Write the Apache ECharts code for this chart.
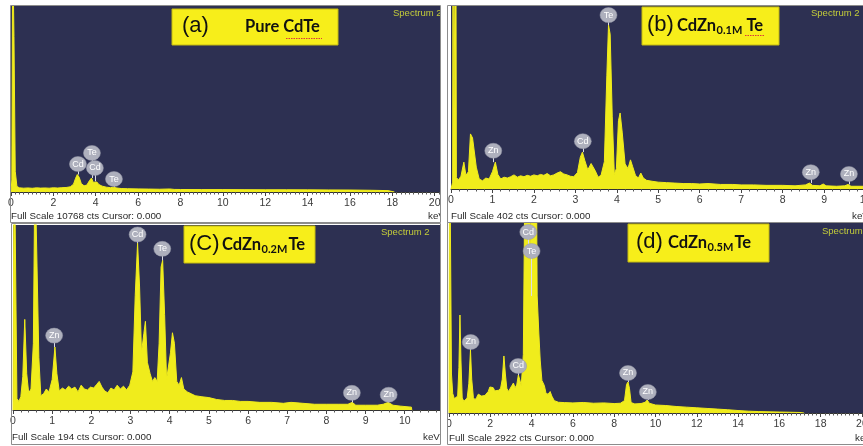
<!DOCTYPE html>
<html>
<head>
<meta charset="utf-8">
<script src="https://cdn.jsdelivr.net/npm/echarts@6/dist/echarts.min.js"></script>
<style>
  html, body { margin: 0; padding: 0; background: #fff; }
  #eds { width: 863px; height: 446px; }
</style>
</head>
<body>
<div id="eds"></div>
<script>
// EDS spectra, [keV, counts]
const specA = [[0,0],[0.04,700],[0.08,14000],[0.14,9000],[0.2,1200],[0.28,320],[0.4,240],[0.6,220],[0.8,235],[1.0,215],[1.2,240],[1.4,225],[1.6,235],[1.8,220],[2.0,245],[2.2,230],[2.4,250],[2.6,260],[2.8,300],[2.95,450],[3.05,800],[3.13,1010],[3.22,850],[3.32,480],[3.45,360],[3.58,400],[3.7,650],[3.8,810],[3.88,560],[3.96,620],[4.05,580],[4.15,430],[4.3,340],[4.5,280],[4.7,250],[4.82,280],[4.9,300],[5.0,230],[5.2,200],[5.5,190],[6.0,180],[6.5,170],[7.0,160],[7.5,175],[7.7,150],[8.0,145],[9.0,140],[10.0,140],[11.0,135],[12.0,130],[13.0,130],[14.0,125],[15.0,120],[16.0,115],[17.0,100],[17.8,80],[18.1,0]];

const specB = [[0,0],[0.04,15],[0.05,700],[0.06,15],[0.1,15],[0.115,700],[0.13,25],[0.18,20],[0.24,28],[0.31,59],[0.36,30],[0.42,38],[0.47,121],[0.52,112],[0.56,108],[0.61,48],[0.68,22],[0.76,18],[0.84,24],[0.92,22],[1.0,38],[1.07,59],[1.13,32],[1.2,22],[1.28,26],[1.36,24],[1.44,27],[1.52,31],[1.6,26],[1.68,29],[1.76,27],[1.84,30],[1.92,28],[2.0,31],[2.08,29],[2.16,32],[2.24,30],[2.32,34],[2.4,29],[2.48,31],[2.56,35],[2.64,38],[2.72,33],[2.8,31],[2.88,28],[2.96,27],[3.05,36],[3.12,70],[3.17,81],[3.23,62],[3.3,42],[3.38,56],[3.42,59],[3.48,40],[3.55,26],[3.62,30],[3.7,60],[3.76,250],[3.8,360],[3.84,340],[3.89,160],[3.94,32],[3.99,45],[4.04,150],[4.08,167],[4.13,125],[4.2,55],[4.27,45],[4.33,64],[4.38,50],[4.45,30],[4.52,24],[4.58,35],[4.64,24],[4.72,19],[4.85,17],[5.0,15],[5.2,14],[5.4,13],[5.6,12],[5.8,12],[6.0,11],[6.2,12],[6.5,10],[6.8,10],[7.0,9],[7.3,9],[7.6,8],[8.0,8],[8.3,7],[8.55,9],[8.65,13],[8.72,8],[8.9,7],[8.98,11],[9.05,7],[9.3,6],[9.5,7],[9.58,10],[9.65,6],[10.0,6]];

const specC = [[0,0],[0.03,300],[0.07,300],[0.1,12],[0.15,9],[0.2,14],[0.25,35],[0.3,95],[0.35,38],[0.4,18],[0.46,22],[0.52,70],[0.56,260],[0.61,260],[0.66,55],[0.71,15],[0.78,17],[0.85,22],[0.92,19],[1.0,32],[1.07,66],[1.12,38],[1.18,20],[1.26,23],[1.34,21],[1.42,25],[1.5,22],[1.58,24],[1.66,19],[1.74,26],[1.82,22],[1.9,21],[1.98,24],[2.06,23],[2.14,27],[2.2,30],[2.27,24],[2.34,20],[2.42,18],[2.5,23],[2.58,21],[2.66,26],[2.74,22],[2.82,25],[2.9,21],[2.98,26],[3.06,40],[3.12,120],[3.18,175],[3.23,130],[3.28,60],[3.34,80],[3.38,93],[3.43,50],[3.5,38],[3.56,30],[3.62,34],[3.68,30],[3.73,70],[3.78,150],[3.82,157],[3.87,100],[3.92,32],[3.97,30],[4.02,60],[4.07,81],[4.12,70],[4.18,30],[4.24,26],[4.3,34],[4.36,22],[4.45,19],[4.55,17],[4.65,15],[4.8,14],[5.0,13],[5.2,11],[5.4,10],[5.6,10],[5.8,9],[6.0,9],[6.3,8],[6.6,8],[6.9,7],[7.1,8],[7.4,7],[7.7,6],[8.0,6],[8.3,6],[8.55,6],[8.66,8],[8.75,5],[9.0,5],[9.3,5],[9.45,6],[9.58,8],[9.7,5],[9.9,4],[10.17,3],[10.18,0]];

const specD = [[0,0],[0.03,4500],[0.08,4500],[0.12,600],[0.18,300],[0.26,220],[0.34,200],[0.42,260],[0.48,700],[0.53,1507],[0.58,800],[0.64,230],[0.72,180],[0.8,200],[0.88,230],[0.96,450],[1.04,969],[1.1,520],[1.18,240],[1.26,200],[1.34,240],[1.42,290],[1.5,300],[1.58,260],[1.66,280],[1.74,270],[1.82,300],[1.9,330],[1.98,400],[2.06,430],[2.14,390],[2.22,340],[2.3,330],[2.4,350],[2.5,380],[2.58,520],[2.66,877],[2.73,600],[2.8,380],[2.88,330],[2.96,350],[3.04,420],[3.12,461],[3.2,390],[3.28,430],[3.36,585],[3.42,520],[3.5,420],[3.6,900],[3.67,3500],[3.72,4500],[3.9,4500],[3.945,1700],[3.99,4500],[4.22,4500],[4.27,1800],[4.35,1230],[4.42,800],[4.5,500],[4.56,461],[4.62,420],[4.7,300],[4.8,290],[4.9,330],[4.98,260],[5.1,190],[5.3,165],[5.6,160],[6.0,155],[6.5,162],[7.0,150],[7.5,155],[8.0,145],[8.3,150],[8.5,190],[8.6,440],[8.67,477],[8.74,380],[8.82,160],[9.0,140],[9.3,145],[9.5,165],[9.6,200],[9.7,150],[10.0,123],[10.5,115],[11.0,100],[11.5,90],[12.0,80],[12.5,70],[13.0,60],[13.5,50],[14.0,38],[14.5,28],[15.0,22],[15.5,18],[16.0,15],[16.5,12],[17.0,8],[17.2,0]];

// element markers: [name, keV, bubble counts, peak counts]
const markA = [['Cd',3.16,1620,1010],['Te',3.82,2260,810],['Cd',3.96,1390,620],['Te',4.86,750,300]];
const markB = [['Zn',1.02,84,59],['Cd',3.18,105,81],['Te',3.8,382,360],['Zn',8.68,37,13],['Zn',9.6,33,10]];
const markC = [['Zn',1.05,78,66],['Cd',3.18,184,175],['Te',3.81,169,157],['Zn',8.65,18,8],['Zn',9.59,16,8]];
const markD = [['Zn',1.05,1092,969],['Cd',3.35,723,585],['Cd',3.84,2783,2400],['Te',4.0,2491,1800],['Zn',8.67,615,477],['Zn',9.63,323,200]];

const fullScale = [10768, 402, 194, 2922];
const keVMax = [20.25, 10, 10.9, 20.1];
const tickStep = [2, 1, 1, 2];
const spectra = [specA, specB, specC, specD];
const marks = [markA, markB, markC, markD];

// panel layout (px)
const grids = [
  { left: 11, top: 6, width: 429, height: 186 },
  { left: 451, top: 6, width: 414.5, height: 183 },
  { left: 13, top: 225, width: 427, height: 185 },
  { left: 449, top: 223, width: 415, height: 190 },
];

const YEL = '#f0ec1c';
const DARK = '#2d3052';
const FONT = 'Liberation Sans, Arial, sans-serif';
const BOLD = 'bold 16.5px Lato, sans-serif';
const SUB = 'bold 11px Lato, sans-serif';

const chart = echarts.init(document.getElementById('eds'));

const xAxes = grids.map((g, i) => ({
  type: 'value', gridIndex: i, min: 0, max: keVMax[i], interval: tickStep[i],
  axisLine: { show: true, onZero: false, lineStyle: { color: '#333', width: 1 } },
  axisTick: { show: true, inside: false, length: 4, lineStyle: { color: '#444' } },
  minorTick: { show: true, splitNumber: tickStep[i] === 2 ? 10 : 5, length: 2.5, lineStyle: { color: '#555' } },
  axisLabel: {
    color: '#3a3a3a', fontSize: 10.5, fontFamily: FONT, margin: 6, hideOverlap: false,
    formatter: v => (Math.abs(v - Math.round(v)) < 1e-6 ? String(Math.round(v)) : ''),
  },
  splitLine: { show: false },
}));

const yAxes = grids.map((g, i) => ({
  type: 'value', gridIndex: i, min: 0, max: fullScale[i], show: false,
}));

const series = [];
spectra.forEach((spec, i) => {
  series.push({
    type: 'line', xAxisIndex: i, yAxisIndex: i, data: spec,
    showSymbol: false, symbol: 'none', clip: true, silent: true, z: 2,
    lineStyle: { color: YEL, width: 1 },
    itemStyle: { color: YEL },
    areaStyle: { color: YEL, opacity: 1 },
    markLine: {
      silent: true, symbol: ['none', 'none'], label: { show: false },
      lineStyle: { color: '#dcdde6', width: 1, type: 'solid' },
      data: marks[i].map(m => [{ coord: [m[1], m[2]] }, { coord: [m[1], m[3]] }]),
    },
  });
  series.push({
    type: 'scatter', xAxisIndex: i, yAxisIndex: i, z: 6, silent: true,
    data: marks[i].map(m => ({ name: m[0], value: [m[1], m[2]] })),
    symbol: 'circle', symbolSize: [17, 15],
    itemStyle: { color: '#aeb0bd', borderColor: '#9698a8', borderWidth: 0.5, opacity: 1 },
    label: { show: true, position: 'inside', formatter: '{b}', color: '#ffffff', fontSize: 9, fontFamily: FONT },
  });
});

// title boxes
const titles = [
  { box: [172, 9, 166, 36], tag: '(a)', tagX: 182, main: 'Pure CdTe', mainX: 245, sub: '', te: '', gap: 0, y: 27 },
  { box: [642, 7, 137, 38], tag: '(b)', tagX: 647, main: 'CdZn', mainX: 677, sub: '0.1M', te: 'Te', gap: 4, y: 26 },
  { box: [184, 226, 131, 37], tag: '(C)', tagX: 189, main: 'CdZn', mainX: 222, sub: '0.2M', te: 'Te', gap: 1, y: 245 },
  { box: [628, 224, 141, 38], tag: '(d)', tagX: 636, main: 'CdZn', mainX: 668, sub: '0.5M', te: 'Te', gap: 1, y: 243 },
];
const spectrumPos = [[393, 13], [811, 13], [381, 232], [822, 231]];
const fullPos = [[11, 216], [451, 216], [12, 437], [449, 438]];
const kevPos = [[428, 216], [852, 216], [423, 437], [855, 438]];

const ctx = document.createElement('canvas').getContext('2d');
const textW = (s, font) => { ctx.font = font; return ctx.measureText(s).width; };

const graphic = [];
const frame = (x, y, w, h) => graphic.push({
  type: 'rect', silent: true, z: 95, shape: { x, y, width: w, height: h },
  style: { fill: 'none', stroke: '#8c8c8c', lineWidth: 1 },
});
titles.forEach((t, i) => {
  graphic.push({
    type: 'rect', silent: true, z: 100,
    shape: { x: t.box[0], y: t.box[1], width: t.box[2], height: t.box[3] },
    style: { fill: '#f7ee1a', stroke: '#c4ba10', lineWidth: 1 },
  });
  graphic.push({
    type: 'text', silent: true, z: 101, x: t.tagX, y: t.y - 1,
    style: { text: t.tag, font: '22px ' + FONT, fill: '#111', verticalAlign: 'middle' },
  });
  graphic.push({
    type: 'text', silent: true, z: 101, x: t.mainX, y: t.y,
    style: { text: t.main, font: BOLD, fill: '#111', verticalAlign: 'middle' },
  });
  if (t.sub) {
    const subX = t.mainX + textW(t.main, BOLD) + 0.5;
    const teX = subX + textW(t.sub, SUB) + t.gap;
    graphic.push({
      type: 'text', silent: true, z: 101, x: subX, y: t.y + 4,
      style: { text: t.sub, font: SUB, fill: '#111', verticalAlign: 'middle' },
    });
    graphic.push({
      type: 'text', silent: true, z: 101, x: teX, y: t.y,
      style: { text: t.te, font: BOLD, fill: '#111', verticalAlign: 'middle' },
    });
  }
  graphic.push({
    type: 'text', silent: true, z: 50, x: spectrumPos[i][0], y: spectrumPos[i][1],
    style: { text: 'Spectrum 2', font: '9.5px ' + FONT, fill: '#c3cc3a', verticalAlign: 'middle' },
  });
  graphic.push({
    type: 'text', silent: true, z: 50, x: fullPos[i][0], y: fullPos[i][1],
    style: { text: 'Full Scale ' + fullScale[i] + ' cts Cursor: 0.000', font: '9.8px ' + FONT, fill: '#2a2a2a', verticalAlign: 'middle' },
  });
  graphic.push({
    type: 'text', silent: true, z: 50, x: kevPos[i][0], y: kevPos[i][1],
    style: { text: 'keV', font: '9.8px ' + FONT, fill: '#2a2a2a', verticalAlign: 'middle' },
  });
});
// red spell-check marks under CdTe / Te
graphic.push({ type: 'line', silent: true, z: 102, shape: { x1: 286, y1: 38.5, x2: 322, y2: 38.5 }, style: { stroke: '#d83a3a', lineWidth: 1, lineDash: [1.5, 1] } });
graphic.push({ type: 'line', silent: true, z: 102, shape: { x1: 745, y1: 35.5, x2: 764, y2: 35.5 }, style: { stroke: '#d83a3a', lineWidth: 1, lineDash: [1.5, 1] } });
// separator strip between left and right panels
graphic.push({ type: 'rect', silent: true, z: 90, shape: { x: 441, y: 0, width: 6, height: 446 }, style: { fill: '#fff' } });
frame(10.5, 5.5, 430, 217);
frame(447.5, 5.5, 420, 217);
frame(11.5, 223.5, 429, 221);
frame(447.5, 222.5, 420, 222);

chart.setOption({
  animation: false,
  backgroundColor: '#fff',
  grid: grids.map(g => Object.assign({ show: true, backgroundColor: DARK, borderWidth: 0, containLabel: false, outerBoundsMode: 'none' }, g)),
  xAxis: xAxes,
  yAxis: yAxes,
  series,
  graphic,
});
</script>
</body>
</html>
